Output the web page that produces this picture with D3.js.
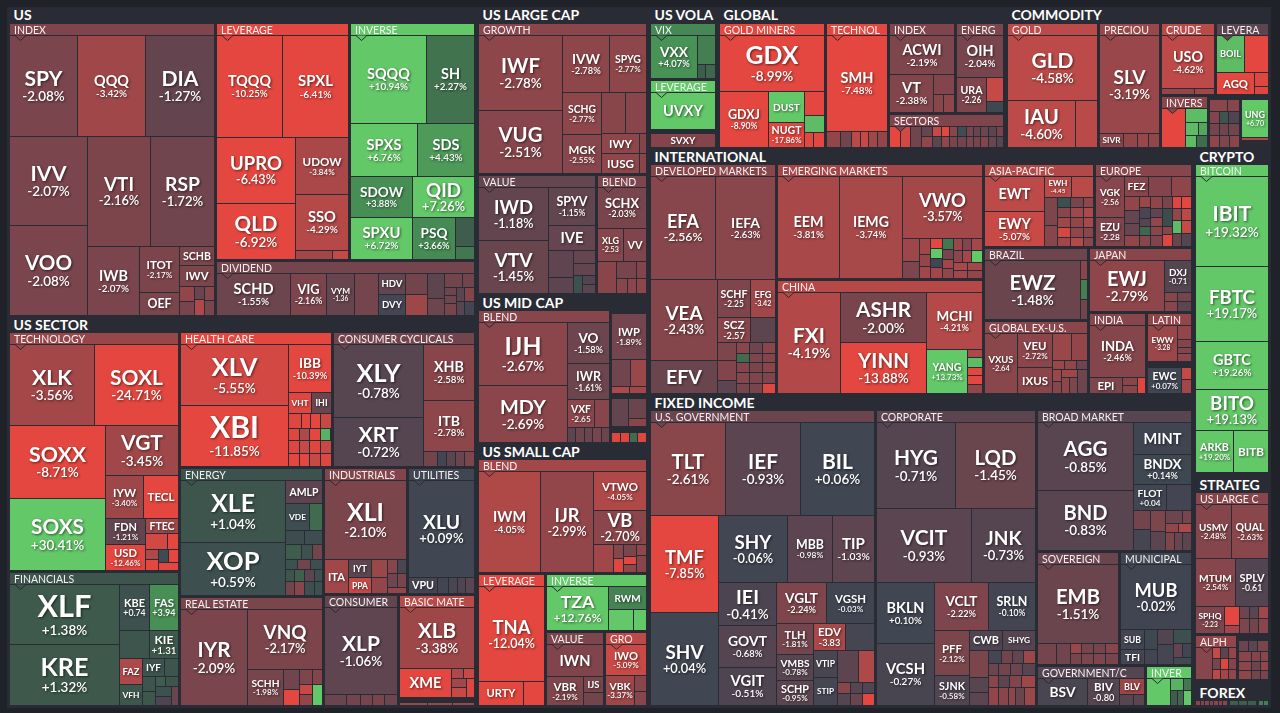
<!DOCTYPE html>
<html><head><meta charset="utf-8">
<script src="https://cdn.jsdelivr.net/npm/d3@7/dist/d3.min.js"></script>
<style>
html,body{margin:0;padding:0;background:#1f2228;overflow:hidden}
svg{display:block}
text{font-family:Lato,"Open Sans",sans-serif;fill:#fff}
</style></head><body><svg id="map" width="1280" height="713"></svg>
<script>
// Each leaf: [ticker, change %, fund size]. 'h'/'v' lists group funds side by side / stacked.
const usIndex=['v',['h',['SPY',-2.08,6868],['QQQ',-3.42,6868],['DIA',-1.27,6969]],
 ['h',['v',['IVV',-2.07,6942],['VOO',-2.08,7020]],
  ['v',['h',['VTI',-2.16,6930],['RSP',-1.72,7040]],
   ['h',['IWB',-2.07,3588],['v',['ITOT',-2.17,1840],['OEF',-2.1,920]],
    ['v',['SCHB',-2.1,665],['IWV',-2.1,735],
     ['h',['v',['',-3,225],['',-2,210]],['v',['',-1.5,130],['',-4,160]],['v',['',-2.5,140],['',-2,150]]]]]]]];
const usLeverage=['v',['h',['TQQQ',-10.25,6732],['SPXL',-6.41,6732]],
 ['h',['v',['UPRO',-6.43,5214],['QLD',-6.92,4424]],
  ['v',['UDOW',-3.84,2968],['SSO',-4.29,2968],['h',['',-3.5,333],['',-5,144]]]]];
const usInverse=['v',['h',['SQQQ',10.94,6688],['SH',2.27,4224]],['h',['SPXS',6.76,3551],['SDS',4.43,3021]],
 ['h',['SDOW',3.88,2542],['QID',7.26,2542]],
 ['h',['SPXU',6.72,2604],['PSQ',3.66,1806],['v',['',1.5,551],['',2.5,247]]]];
const usDividend=['h',['SCHD',-1.55,3108],['VIG',-2.16,1512],['VYM',-1.36,1176],['',-1.9,1008],
 ['v',['HDV',-1.2,567],['DVY',-0.2,567]],['v',['',-1.8,462],['',-3.4,462]],['v',['',-1,425],['',-1.6,289]],
 ['v',['h',['',-1.8,252],['',-1.8,168]],
  ['h',['v',['',-1.6,96],['',-1.8,96],['',-2,144]],['v',['',-1,112],['',-0.8,112]],['v',['',-2.4,140],['',-0.1,140]]]]];

const secTechnology=['v',['h',['XLK',-3.56,6885],['SOXL',-24.71,6804]],
 ['h',['v',['SOXX',-8.71,7008],['SOXS',30.41,6912]],
  ['v',['VGT',-3.45,3650],['h',['IYW',-3.4,1634],['TECL',-7,1505]],
   ['h',['v',['FDN',-1.21,1040],['USD',-12.46,1040]],
    ['v',['FTEC',-3.5,495],['h',['',-5.5,352],['',-8,176]],
     ['h',['v',['',-4,130],['',-7,143]],['v',['h',['',0.3,130],['',-7,130]],['',-8,160]]]]]]]];
const secFinancials=['h',['v',['XLF',1.38,6600],['KRE',1.32,6710]],
 ['v',['h',['v',['KBE',0.74,1380],['',1,840]],['v',['FAS',3.94,1334],['KIE',1.31,812]]],
  ['h',['v',['FAZ',-4,598],['VFH',1.2,483]],
   ['v',['h',['IYF',0.9,396],['',1,252]],
    ['h',['v',['',1,195],['',1.2,182]],
     ['v',['h',['',1.5,100],['',1,130]],['h',['v',['',0.8,160],['',-0.5,144]],['',-1.5,133]]]]]]]];
const secHealth=['h',['v',['XLV',-5.55,6588],['XBI',-11.85,6588]],
 ['v',['IBB',-10.39,2016],['h',['VHT',-6,483],['IHI',-1.5,399]],
  ['h',['',-6,195],['',-7,135],['',-7,150],['',-5,150]],
  ['h',['',-6,132],['',-4,120],['',-7,132],['',5.5,120]],
  ['h',['',-6,143],['',-5,130],['',-6,143],['',-5,130]],
  ['h',['',-7,143],['',-7,130],['',-5,143],['',-6,130]]]];
const secCyclicals=['h',['v',['XLY',-0.78,6570],['XRT',-0.72,4410]],
 ['v',['XHB',-2.58,2856],['ITB',-2.78,2600],['h',['',-1.8,210],['',-0.1,135],['',-1,135],['',-1.5,135],['',-2.2,150]]]];
const secEnergy=['h',['v',['XLE',1.04,6552],['XOP',0.59,5512]],
 ['v',['AMLP',-1,855],['h',['VDE',0.5,636],['',2,371]],['h',['',0.4,266],['',0.5,266]],
  ['h',['',1.5,228],['',0.8,152],['',-1.8,152]],
  ['h',['',0.8,116],['',-1.8,137],['',0.6,126]],
  ['h',['',1,108],['',1.6,122],['',-1,122],['',0.7,108]],
  ['h',['',-1.8,120],['',-2.5,135],['',0.6,135],['',0.7,120]]]];
const secIndustrials=['v',['XLI',-2.1,6399],
 ['h',['ITA',-3.5,805],['v',['IYT',-1,414],['PPA',-5,391]],['v',['',-3.2,288],['',-3,272]],
  ['v',['h',['',-2.5,140],['',-0.3,126]],['h',['',-1.7,140],['',-2,126]],['',-3,133]]]];
const secUtilities=['v',['XLU',0.09,6402],['h',['VPU',-0.2,493],['',-0.1,187],['',-0.3,153],['',-0.5,136],['',-0.9,145]]];
const secRealEstate=['h',['IYR',-2.09,6365],
 ['v',['VNQ',-2.17,4425],
  ['h',['SCHH',-1.98,1296],['v',['',-1.7,320],['',-6.5,256]],['v',['',-2.2,195],['',-5,130],['',-3,143]],['v',['',-2.4,150],['',7,210]]]]];
const secConsumer=['v',['XLP',-1.06,6192],['h',['',-1.4,231],['',-1.8,154],['',-1.9,132],['',-2,132],['',-1.6,143]]];
const secBasic=['v',['XLB',-3.38,4425],
 ['h',['XME',-6.5,1456],['v',['h',['',-4,120],['',-5,110]],['h',['v',['',-3.5,135],['',-5,135]],['',-6,144]]]],
 ['',null,375],['h',['',-3.2,90],['',-3.2,80],['',-3.2,70]]];

const lcGrowth=['h',['v',['IWF',-2.78,6258],['VUG',-2.51,5334]],
 ['v',['h',['IVW',-2.78,2679],['SPYG',-2.77,2109]],
  ['h',['v',['SCHG',-2.77,1638],['MGK',-2.55,1521]],
   ['v',['h',['',-2.6,984],['',-2.6,861]],
    ['h',['v',['IWY',-2.8,760],['IUSG',-2.8,760]],['v',['',-2.4,140],['',-2.5,140]]]]]]];
const lcValue=['h',['v',['IWD',-1.18,3675],['VTV',-1.45,3710]],
 ['v',['SPYV',-1.15,1763],['IVE',-1.3,1152],
  ['h',['v',['',-1.1,648],['',-1,384]],
   ['v',['',-1.3,265],['',-1.2,265],['h',['',0.8,164],['v',['',-0.6,113],['',-1,120]]]]]]];
const lcBlend=['v',['SCHX',-2.03,1920],['h',['XLG',-2.53,812],['VV',-2.3,748]],
 ['h',['',-2.6,594],['v',['',-2,342],['h',['',-2.5,150],['',-2.7,135]]],['v',['',-2.4,162],['',-2.8,135]]]];

const mcBlend=['h',['v',['IJH',-2.67,5607],['MDY',-2.69,5073]],
 ['v',['VO',-1.58,1722],['IWR',-1.61,1491],['h',['VXF',-2.65,756],['',-2.5,420]],
  ['h',['',-1,130],['',-1.6,130],['',-1.4,130],['',-2,130],['',-1.5,130]]]];
const mcOther1=['v',['',null,102],['IWP',-1.89,1530],['h',['',-1.7,468],['',-3.2,416]],['h',['',-4,119],['',-3.5,119]]];
const mcOther2=['v',['',null,102],['h',['',-1.2,476],['v',['',-1.5,360],['',-2.6,126]]],['',null,120]];
const mcOther3=['v',['',null,34],['h',['',-6,85],['',-6,85],['',2,85],['',-6,85]]];

const scBlend=['h',['IWM',-4.05,6324],['IJR',-2.99,5406],
 ['v',['VTWO',-4.05,2067],['VB',-2.7,1802],
  ['h',['',-3.5,551],['v',['',-2.5,140],['',-6,150]],['v',['',-2.1,154],['',-7,105],['',-3,112]],['v',['',-3,110],['',-2.5,180]]]]];
const scLeverage=['v',['TNA',-12.04,6204],['h',['URTY',-8,1080],['',-8,504]]];
const scInverse=['h',['TZA',12.76,2728],['v',['RWM',3.2,874],['h',['',8,525],['',8,273]]]];
const scValue=['v',['IWN',-2.3,1856],['h',['VBR',-2.19,1073],['v',['IJS',-2,336],['',-1.8,273]]]];
const scGrowth=['v',['IWO',-5.09,1280],['h',['VBK',-3.37,840],['v',['',-2.6,192],['',-2.5,168]]]];

const volVix=['h',['VXX',4.07,2068],['v',['',3,540],['h',['',1.5,112],['',1.8,140]]]];
const volLeverage=['h',['UVXY',7,2405]];
const volOther=['v',['',null,134],['SVXY',-2.4,871]];

const glMiners=['v',['GDX',-8.99,5828],
 ['h',['GDXJ',-8.9,2769],['v',['DUST',7,1116],['NUGT',-17.86,918]],
  ['v',['',-8,480],['',6,340],['h',['',-7,135],['',-6.5,165]]]]];
const glTech=['v',['SMH',-7.48,5760],['h',['',-3,224],['',-1.8,176],['',-4.5,128],['',-5,128],['',-3.5,144],['',-3,160]]];
const glIndex=['v',['ACWI',-2.19,2568],['h',['VT',-2.38,1650],['v',['',-2.4,420],['h',['',-2.6,170],['',-2.8,187]]]]];
const glEnergy=['v',['OIH',-2.04,1974],['h',['URA',-2.26,1050],['v',['',-5,408],['',0.2,187]]]];
const glSectors=['h',['',-7,210],['',-5.5,210],['',-1.8,220],
 ['v',['',-1.3,100],['',-3,110]],['v',['',-5,85],['',-1,94]],['v',['',-7,80],['',-3,88]],['v',['',-2.5,75],['',-2,83]],
 ['v',['',0.5,80],['',-1.7,88]],['v',['',-2,70],['',-2.2,77]],['v',['',-1.3,70],['',-2,77]],['v',['',-1.6,70],['',-2.4,77]],
 ['v',['',-1,75],['',-1.4,83]],['v',['',-2,70],['',-0.8,77]]];

const cmGold=['v',['GLD',-4.58,5805],['h',['IAU',-4.6,3230],['',-4.5,1045]]];
const cmPrecious=['v',['SLV',-3.19,5782],['h',['SIVR',-2.7,336],['',-3,196],['',-3.2,154],['',-3,140]]];
const cmCrude=['v',['USO',-4.62,2809],['h',['',-3,198],['',-3.5,120]]];
const cmLeverage=['v',['h',['BOIL',6,999],['',-7,888]],['h',['AGQ',-6.5,814],['v',['',-6,196],['',-6,112]]]];
const cmInverse=['h',['',-8,936],['v',['',6,308],['h',['',6,169],['',5,117]],['h',['',6,132],['',2,132]]]];
const cmOther=['v',['',null,90],
 ['h',['',-2.7,198],['',-2.6,132]],['h',['',-2.4,110],['',1,99],['',-0.5,121]],
 ['h',['',-1.9,110],['',-1.8,99],['',-1.8,121]],['h',['',-2.8,110],['',-2.2,110],['',-2.6,110]]];
const cmGas=['v',['',null,81],['UNG',6.7,999],['',-4,81],['',null,189]];

const inDeveloped=['v',['h',['EFA',-2.56,6695],['IEFA',-2.63,6180]],
 ['h',['v',['VEA',-2.43,5360],['EFV',-1.5,2211]],
  ['v',['h',['SCHF',-2.25,1221],['EFG',-3.42,925]],['h',['SCZ',-2.57,825],['',-1,625]],
   ['h',['v',['',-2.2,342],['',-2.4,380],['',-1,247]],
    ['v',['',-2.7,140],['',2,120],['',-2.4,130],['',-2.5,140],['',-2,133]],
    ['v',['',-1.6,140],['',-2.2,120],['',-2,130],['',-2.3,140],['',-2,133]],
    ['v',['',-2.6,140],['',-2.4,120],['',-2.6,130],['',-2.3,140],['',-6,133]]]]]];
const inEmerging=['h',['EEM',-3.81,6222],['IEMG',-3.74,6324],
 ['v',['VWO',-3.57,4980],
  ['h',['v',['',-3.4,396],['',-2.2,297]],
   ['v',['',-3.5,165],['',-3,132],['',-3.5,132]],
   ['v',['',-7,110],['',7,110],['',-0.1,110],['',-3.5,121]],
   ['v',['',2.5,116],['',-2,116],['',-3.5,94],['',-3,110]],
   ['v',['h',['',-3.2,105],['',-2.4,105],['',-3.6,135]],['h',['',-2.7,110],['',-3.6,110],['',7,143]],
    ['h',['v',['',-3.8,105],['',-3.5,115]],['v',['',-3.6,120],['',-3,120]]]]]]];
const inChina=['h',['FXI',-4.19,6300],['v',['ASHR',-2,4300],['YINN',-13.88,4300]],
 ['v',['MCHI',-4.21,3192],['h',['YANG',13.73,1804],['v',['',-4,128],['',6,144],['',-7,128],['',-7,128],['',-3,144]]]]];
const inAsia=['h',['v',['EWT',-4.6,2083],['EWY',-5.07,2083]],
 ['v',['h',['EWH',-4.45,567],['',-4.4,462]],
  ['h',['v',['',-2.2,364],['',-2.5,273]],
   ['v',['h',['',0.6,130],['',-2,130],['',-2.8,100]],['h',['',-2.6,130],['',-3.5,130],['',-4,100]],
    ['h',['',-3.4,130],['',-3,130],['',-3.8,100]],['h',['',-5.5,130],['',-3,130],['',-2.7,100]],['h',['',-3.5,117],['',-4.2,117],['',-2.7,90]]]]]];
const inEurope=['h',['v',['VGK',-2.56,1128],['EZU',-2.28,798]],
 ['v',['h',['FEZ',-2.5,475],['',-2.4,437],['',-2.8,380]],
  ['h',['v',['',-3,210],['',-1.3,195],['',-1.4,180],['',-3,150]],
   ['v',['',-3.2,132],['',-0.4,120],['',-0.7,96],['',1.8,96],['',-2.5,120]],
   ['v',['',-2.8,144],['',-1.1,96],['',-3,108],['',-2.6,96],['',-2.3,120]],
   ['v',['',-2,108],['',0.4,162],['',-2.6,72],['',-6,108]],
   ['v',['',-6,120],['',-3,110],['',6,120],['',-1.5,120]],
   ['v',['',-8,120],['',-4.5,110],['',-5,120],['',-0.7,120]]]]];
const inBrazil=['h',['EWZ',-1.48,5760],['v',['',-2.6,140],['',3,140],['',-1.8,140]]];
const inGlobal=['h',['VXUS',-2.64,1914],['v',['VEU',-2.72,1155],['IXUS',-2.6,875]],
 ['v',['h',['',-3.2,494],['',-3,416]],['h',['',-3.2,108],['',-3,108],['',-1.6,99]],
  ['h',['v',['',-3.2,99],['',-2.5,108]],['v',['',-3.4,128],['h',['',-2.8,120],['',-2.2,120]]],['',-1.6,230]]]];
const inJapan=['h',['EWJ',-2.79,3900],['v',['DXJ',-0.71,891],['h',['',-2.6,125],['',-1.9,135]],['h',['',-2.6,125],['',-1,135]]]];
const inIndia=['v',['INDA',-2.46,2856],['h',['EPI',-2.2,528],['v',['',-2.6,120],['',-2.6,120]],['',-6,128]]];
const inLatin=['h',['EWW',-3.28,1073],['v',['',-3,195],['',-2.4,105],['',-2.4,90],['',-2.8,105]]];
const inCanada=['v',['',null,176],['h',['EWC',0.07,850],['v',['',-5,110],['',-3.5,140]]]];

const fiGov=['v',['h',['TLT',-2.61,6938],['IEF',-0.93,7030],['BIL',0.06,6938]],
 ['h',['v',['TMF',-7.85,6645],['SHV',0.04,6370]],
  ['v',['h',['SHY',-0.06,4623],['MBB',-0.98,3015],['TIP',-1.03,2848]],
   ['h',['v',['IEI',-0.41,2473],['GOVT',-0.68,2415],['VGIT',-0.51,2185]],
    ['v',['h',['VGLT',-2.24,2050],['VGSH',-0.03,2009]],
     ['h',['v',['TLH',-1.81,1163],['VMBS',-0.78,975],['SCHP',-0.95,938]],
      ['v',['h',['EDV',-3.83,864],['',-0.2,783]],
       ['h',['v',['VTIP',-0.3,648],['STIP',-0.2,672]],
        ['v',['h',['',-1,672],['',-4,512]],['h',['',-2.6,143],['',-0.8,132],['',-0.6,132]],['h',['',-0.7,156],['',-1.5,144],['',-7,144]]]]]]]]]]];
const fiCorp=['v',['h',['HYG',-0.71,6794],['LQD',-1.45,6880]],['h',['VCIT',-0.93,6935],['JNK',-0.73,4672]],
 ['h',['v',['BKLN',0.1,3538],['VCSH',-0.27,3596]],
  ['v',['h',['VCLT',-2.22,2592],['SRLN',-0.1,2256]],
   ['h',['v',['PFF',-2.12,1575],['SJNK',-0.58,1050]],
    ['v',['h',['CWB',-0.5,660],['SHYG',-0.7,660]],
     ['h',['v',['',-2.1,513],['',-0.8,285],['',-0.9,247]],
      ['v',['h',['',-0.2,169],['',-1.8,143],['',-1.2,143],['',-3.2,156]],
       ['h',['',-1.6,120],['',-1.8,144],['',-1.6,144],['',-0.8,156]],
       ['h',['',-2.5,120],['',-1,132],['',-2.4,144],['',-3.4,168]],
       ['h',['',-3,180],['',-2.6,180],['',-2.8,126],['',-1.5,162],['',-3.2,198]]]]]]]]];
const fiBroad=['h',['v',['AGG',-0.85,6460],['BND',-0.83,5653]],
 ['v',['MINT',-0.02,1829],['BNDX',0.14,1740],['h',['FLOT',0.04,884],['',-0.1,650]],
  ['h',['v',['',-1.8,333],['',-0.2,350]],['v',['',-2.2,300],['',-0.9,270]],
   ['v',['h',['',-1.6,221],['',-2,117]],['h',['',-3,117],['',-4,117]],['h',['',-2.2,150],['',-1.4,150],['',-1,150]]]]]];
const fiSovereign=['v',['EMB',-1.51,6399],
 ['h',['',-1.9,399],['',-1.7,294],['v',['',-3.2,115],['',-2,115]],['v',['',-2,126],['',-2.2,126]],['v',['',-1.9,126],['',-2.2,126]],['v',['',-2.6,137],['',-2,137]]]];
const fiMunicipal=['v',['MUB',-0.02,4410],
 ['h',['v',['SUB',-0.1,441],['TFI',-0.2,336]],['v',['',0.2,247],['',-0.1,182]],['v',['',-0.6,224],['',-0.2,304]],
  ['v',['',0.7,238],['h',['',-1.2,110],['',-0.1,127]],['',0.3,102]]]];
const fiGovCorp=['h',['BSV',-0.3,1350],['BIV',-0.8,864],['v',['BLV',-3.2,400],['h',['',-0.8,154],['',-1,121]]]];
const fiInverse=['h',['',8,621],['v',['h',['',5.5,156],['',2.5,96]],['h',['',1.5,105],['',1.8,90],['',7,120]]]];

const btc=['v',['IBIT',19.32,6643],['FBTC',19.17,5475],['GBTC',19.26,3500],['BITO',19.13,3066],['h',['ARKB',19.2,1575],['BITB',7,1491]]];
const stLarge=['v',['h',['USMV',-2.48,1944],['QUAL',-2.63,2000]],['h',['MTUM',-2.54,1900],['SPLV',-0.61,1568]],
 ['h',['SPHQ',-2.23,784],['v',['',-6.5,289],['',-3.5,136]],['v',['',-1.6,108],['',-2.2,144]],['v',['',-0.9,108],['',-1.8,144]],['v',['',-3.5,120],['',-2.6,160]]]];
const stAlpha=['h',['',-2.5,527],['v',['',-5,80],['',-2,88],['',-4.5,80]],['v',['',-1,80],['',-6,88],['',-3.5,80]],['v',['',-3,80],['',-2.4,88],['',-3,80]]];
const stOther=['v',['',null,120],['h',['',-1.4,90],['',-1,90],['',-2,100]],['h',['',-2.6,104],['',-2.4,64],['',-2.6,64]],
 ['h',['',-2.7,104],['',-1.4,64],['',-3,64]],['h',['',-2.8,104],['',-1.8,64],['',-2,64]]];
const fxA=['h',['',-2.6,23],['',-2.4,23],['',-2.6,23],['',-2.2,23],['',-2.6,23],['',-2.4,23],['',-2.6,23]];
const fxB=['h',['',1.5,50],['',1.5,48],['',1.5,47]];
const fxC=['h',['',3,30],['',3,30]];

// Section and category names, their average change and total size.
const grp=(name,change,size,tree)=>({kind:'group',name,change,size,tree});
const sec=(name,size,tree)=>({kind:'section',name,size,tree});
const mapTree=['h',
 ['v',
  sec('US',144921,['h',grp('INDEX',-2.3,60858,usIndex),
    ['v',['h',grp('LEVERAGE',-6.6,31892,usLeverage),grp('INVERSE',7,29988,usInverse)],grp('DIVIDEND',-1.9,14560,usDividend)]]),
  sec('US SECTOR',182910,['h',
    ['v',grp('TECHNOLOGY',-3.1,41040,secTechnology),grp('FINANCIALS',1,23085,secFinancials)],
    ['v',['h',grp('HEALTH CARE',-6.4,20740,secHealth),grp('CONSUMER CYCLICALS',-1.8,19516,secCyclicals)],
     ['h',['v',grp('ENERGY',0.8,18640,secEnergy),grp('REAL ESTATE',-2.1,15895,secRealEstate)],
      ['v',['h',grp('INDUSTRIALS',-2.4,10646,secIndustrials),grp('UTILITIES',0.05,8670,secUtilities)],
       ['h',grp('CONSUMER',-1.2,8307,secConsumer),grp('BASIC MATE',-4.4,8586,secBasic)]]]]]) ],
 ['v',
  sec('US LARGE CAP',49364,['h',['v',grp('GROWTH',-2.7,25840,lcGrowth),
     ['h',grp('VALUE',-1.3,14280,lcValue),grp('BLEND',-2.2,6120,lcBlend)]]]),
  sec('US MID CAP',25628,['h',grp('BLEND',-2.5,17822,mcBlend),
     ['v',grp('',0,3145,mcOther1),grp('',0,1332,mcOther2),grp('',0,481,mcOther3)]]),
  sec('US SMALL CAP',45236,['v',grp('BLEND',-3.6,19635,scBlend),
     ['h',grp('LEVERAGE',-9,9010,scLeverage),
      ['v',grp('INVERSE',7,5865,scInverse),['h',grp('VALUE',-2.2,4463,scValue),grp('GRO',-4.6,3188,scGrowth)]]]]) ],
 ['v',
  ['h',
   sec('US VOLA',9729,['v',grp('VIX',3.5,3819,volVix),grp('LEVERAGE',7,3417,volLeverage),grp('',0,1206,volOther)]),
   sec('GLOBAL',40608,['h',grp('GOLD MINERS',-8,13482,glMiners),grp('TECHNOL',-6.5,7938,glTech),
     ['v',['h',grp('INDEX',-2.3,6064,glIndex),grp('ENERG',-2.2,4435,glEnergy)],grp('SECTORS',-2.3,4118,glSectors)]]),
   sec('COMMODITY',37365,['h',grp('GOLD',-4.6,11529,cmGold),grp('PRECIOU',-3.2,7812,cmPrecious),
     ['v',['h',grp('CRUDE',-4.4,4024,cmCrude),grp('LEVERA',-1,3915,cmLeverage)],
      ['h',grp('INVERS',-2.6,2595,cmInverse),grp('',0,1685,cmOther),grp('',0,1578,cmGas)]]]) ],
  ['h',
   ['v',
    sec('INTERNATIONAL',134070,['h',grp('DEVELOPED MARKETS',-2.6,29337,inDeveloped),
      ['v',grp('EMERGING MARKETS',-3.6,24070,inEmerging),grp('CHINA',-4.3,23863,inChina)],
      ['v',['h',grp('ASIA-PACIFIC',-4.1,9227,inAsia),grp('EUROPE',-2.5,8183,inEurope)],
       ['h',['v',grp('BRAZIL',-1.6,7681,inBrazil),grp('GLOBAL EX-U.S.',-2.7,7733,inGlobal)],
        ['v',grp('JAPAN',-2.6,6760,inJapan),
         ['h',grp('INDIA',-2.5,4744,inIndia),['v',grp('LATIN',-3,2348,inLatin),grp('',0,1488,inCanada)]]]]]]),
    sec('FIXED INCOME',170040,['h',grp('U.S. GOVERNMENT',-1.5,67270,fiGov),grp('CORPORATE',-1,47668,fiCorp),
      ['v',grp('BROAD MARKET',-0.8,22074,fiBroad),
       ['h',grp('SOVEREIGN',-1.5,9462,fiSovereign),grp('MUNICIPAL',0,8322,fiMunicipal)],
       ['h',grp('GOVERNMENT/C',-0.7,4544,fiGovCorp),grp('INVER',7,1930,fiInverse)]]]) ],
   ['v',
    sec('CRYPTO',25025,grp('BITCOIN',7,23000,btc)),
    sec('STRATEG',15939,['h',['v',grp('US LARGE C',-2.5,10763,stLarge),
       ['h',grp('ALPH',-3,1957,stAlpha),grp('',0,1456,stOther)]]]),
    sec('FOREX',2002,['h',grp('',0,170,fxA),grp('',0,145,fxB),grp('',0,60,fxC)]) ]]]];

// Text sizing: label widths as seen on the map, and which labels drop the change or its percent sign.
const labelWidth={SPY:38,QQQ:35,DIA:37,IVV:36,VTI:30,RSP:35,VOO:47,IWB:29,ITOT:26,OEF:24,SCHB:28,IWV:23,TQQQ:43,SPXL:35,UPRO:52,UDOW:39,QLD:43,SSO:28,SQQQ:43,SH:19,SPXS:35,SDS:27,SDOW:43,QID:35,SPXU:38,PSQ:27,SCHD:40,VIG:22,VYM:19,HDV:21,DVY:20,
XLK:40,SOXL:53,SOXX:57,VGT:42,SOXS:53,IYW:23,TECL:27,FDN:23,FTEC:25,USD:23,XLF:54,KRE:48,KBE:21,FAS:20,KIE:19,FAZ:17,IYF:15,VFH:17,XLV:46,XBI:49,IBB:22,VHT:17,IHI:12,XLE:44,XOP:53,AMLP:29,VDE:17,XLY:44,XRT:40,XHB:30,ITB:22,XLI:37,ITA:17,IYT:14,PPA:16,XLU:37,VPU:22,IYR:33,VNQ:43,SCHH:28,XLP:38,XLB:38,XME:32,
IWF:39,IVW:28,SPYG:26,SCHG:28,VUG:44,MGK:27,IWY:23,IUSG:27,IWD:39,SPYV:31,IVE:23,VTV:38,SCHX:34,XLG:17,VV:15,VXX:28,UVXY:40,SVXY:25,GDX:53,GDXJ:32,DUST:27,NUGT:30,SMH:33,EFA:32,IEFA:29,EEM:30,
IJH:37,VO:20,IWP:22,IWR:25,MDY:46,VXF:20,IWM:33,IJR:25,VTWO:36,VB:25,TNA:38,URTY:29,TZA:34,RWM:26,IWN:31,IWO:24,VBR:23,IJS:12,VBK:21,
ACWI:39,OIH:27,VT:19,URA:22,GLD:42,IAU:35,SLV:32,SIVR:18,USO:30,BOIL:21,AGQ:25,UNG:20,VEA:37,SCHF:27,EFG:17,SCZ:21,EFV:36,IEMG:36,VWO:47,FXI:32,ASHR:55,MCHI:36,YINN:51,YANG:29,
EWT:32,EWH:19,EWY:33,VGK:20,FEZ:18,EZU:20,EWZ:46,EWJ:40,DXJ:18,VEU:23,VXUS:25,IXUS:26,INDA:33,EPI:17,EWW:22,EWC:24,IBIT:39,FBTC:46,GBTC:38,
TLT:33,IEF:30,BIL:31,HYG:44,LQD:42,TMF:39,SHY:37,MBB:28,TIP:23,VCIT:47,JNK:36,IEI:23,VGLT:33,VGSH:31,BKLN:38,VCLT:32,SRLN:31,TLH:21,EDV:23,GOVT:39,VMBS:29,VTIP:19,PFF:20,CWB:26,SHYG:22,SHV:38,VGIT:34,SCHP:28,STIP:17,VCSH:39,SJNK:26,
AGG:44,MINT:38,BNDX:38,FLOT:25,BND:44,EMB:44,MUB:43,SUB:17,TFI:15,BSV:26,BIV:19,BLV:16,BITO:44,ARKB:29,BITB:26,USMV:29,QUAL:29,MTUM:33,SPLV:25,SPHQ:23};
const tickerOnly=new Set(['SCHB','IWV','OEF','HDV','DVY','TECL','FTEC','AMLP','VDE','VHT','IHI','FAZ','IYF','VFH','ITA','IYT','PPA','VPU','XME','IVE','VV','IWY','IUSG','UVXY','SVXY','DUST','IWN','URTY','RWM','IJS','BOIL','AGQ','EFV','IXUS','FEZ','EPI','MINT','CWB','SHYG','VTIP','STIP','SUB','TFI','BSV','BLV','BITB','SIVR','EWT']);
const noPercent=new Set(['VYM','KBE','FAS','KIE','XLG','VXF','URA','UNG','SCHF','EFG','SCZ','EWH','VGK','EZU','DXJ','EWW','VXUS','BIV','FLOT','SPLV','SPHQ','EDV']);
const sectionTop={STRATEG:19,FOREX:20};

const colorScale=d3.scaleLinear()
 .domain([-6.2,-4.58,-3.42,-2.08,-1,0,0.6,1.4,2.3,3.9,6.5])
 .range(['#e3473f','#bc4a48','#9f4749','#7a454c','#5d4550','#404552','#3d4f4f','#3e5a4c','#42744f','#478e55','#63c868'])
 .clamp(true);

const isSplit=d=>Array.isArray(d)&&(d[0]==='h'||d[0]==='v');
const kids=d=>isSplit(d)?d.slice(1):(d.kind?[d.tree]:null);
const root=d3.hierarchy(mapTree,kids);
root.eachAfter(n=>{n.value=n.data.kind?n.data.size:(n.children?d3.sum(n.children,c=>c.value):n.data[2]);});
root.eachBefore(n=>{
 n.inSec=n.parent?(n.parent.inSec||n.parent.data.kind==='section'):false;
 n.inGrp=n.parent?(n.parent.inGrp||n.parent.data.kind==='group'):false;
});
function tile(node,x0,y0,x1,y1){
 const total=d3.sum(node.children,c=>c.value), vert=node.data[0]==='v';
 let p=vert?y0:x0; const k=(vert?y1-y0:x1-x0)/total;
 node.children.forEach(c=>{
  c.x0=vert?x0:p;c.x1=vert?x1:p+c.value*k;
  c.y0=vert?p:y0;c.y1=vert?p+c.value*k:y1;
  p=vert?c.y1:c.x1;
 });
}
const isSec=n=>n.data.kind==='section', isGrp=n=>n.data.kind==='group';
d3.treemap().size([1263,699]).tile(tile)
 .paddingTop(n=>isSec(n)?(sectionTop[n.data.name]||16):(isGrp(n)&&n.data.name?12:0))
 .paddingLeft(n=>isSec(n)?3:0).paddingRight(n=>isSec(n)?1:0).paddingBottom(n=>isSec(n)?1:0)
 .paddingInner(n=>isSplit(n.data)&&n.inSec&&!n.inGrp?2:0)(root);

const svg=d3.select('#map');
svg.append('rect').attr('x',7).attr('y',7).attr('width',1264).attr('height',701).attr('fill','#292c34');
const map=svg.append('g').attr('transform','translate(7,8)');
const cells=root.leaves().filter(n=>n.data[1]!==null);
const px=n=>{const l=Math.round(n.x0),t=Math.round(n.y0);return {l,t,w:Math.round(n.x1)-l-1,h:Math.round(n.y1)-t-1};};

map.append('g').attr('shape-rendering','crispEdges').selectAll('rect').data(cells).join('rect')
 .attr('x',n=>px(n).l).attr('y',n=>px(n).t).attr('width',n=>Math.max(0,px(n).w)).attr('height',n=>Math.max(0,px(n).h))
 .attr('fill',n=>colorScale(n.data[1]));

const groups=root.descendants().filter(n=>isGrp(n)&&n.data.name);
map.append('g').attr('shape-rendering','crispEdges').selectAll('rect').data(groups).join('rect')
 .attr('x',n=>px(n).l).attr('y',n=>px(n).t).attr('width',n=>px(n).w).attr('height',11)
 .attr('fill',n=>colorScale(n.data.change));
map.append('g').selectAll('path').data(groups).join('path')
 .attr('d',n=>{const {l,t}=px(n);const y=t+12;return `M${l+5},${y-.5}L${l+10.5},${y+4.5}L${l+16},${y-.5}`;})
 .attr('fill',n=>colorScale(n.data.change)).attr('stroke','#272a31').attr('stroke-width',1);
map.append('g').selectAll('text').data(groups).join('text')
 .attr('x',n=>px(n).l+4).attr('y',n=>px(n).t+9.8).attr('font-size',10.5).attr('opacity',.92).text(n=>n.data.name);

const secs=root.descendants().filter(isSec);
map.append('g').selectAll('text').data(secs).join('text')
 .attr('x',n=>Math.round(n.x0)+6.5).attr('y',n=>Math.round(n.y0)+(sectionTop[n.data.name]||16)-(n.y0<5?4:3))
 .attr('font-size',14).attr('font-weight',700).text(n=>n.data.name);

const ctx=document.createElement('canvas').getContext('2d');
function tickerSize(t){ctx.font='700 100px Lato';return labelWidth[t]/ctx.measureText(t).width*100;}
const fmt=v=>d3.format('+.2f')(v).replace('\u2212','-');
const labels=map.append('g').style('filter','drop-shadow(1px 1px 1px rgba(0,0,0,.55))');
cells.filter(n=>n.data[0]).forEach(n=>{
 const [t,v]=n.data, {l,t:top,w,h}=px(n), fs=tickerSize(t), cx=l+w/2, cy=top+h/2;
 const showChange=!tickerOnly.has(t);
 const cs=noPercent.has(t)?fs*.8:Math.min(13.5,Math.max(8,fs*.68));
 const cap=.72*fs, ccap=.72*cs, gap=Math.max(2.5,fs*.27);
 const block=showChange?cap+gap+ccap:cap;
 const base=cy-block/2+cap;
 labels.append('text').attr('x',cx).attr('y',base).attr('text-anchor','middle').attr('font-size',fs).attr('font-weight',700).text(t);
 if(showChange)labels.append('text').attr('x',cx).attr('y',base+gap+ccap).attr('text-anchor','middle').attr('font-size',cs).attr('font-weight',600)
  .text(fmt(v)+(noPercent.has(t)?'':'%'));
});
</script></body></html>
